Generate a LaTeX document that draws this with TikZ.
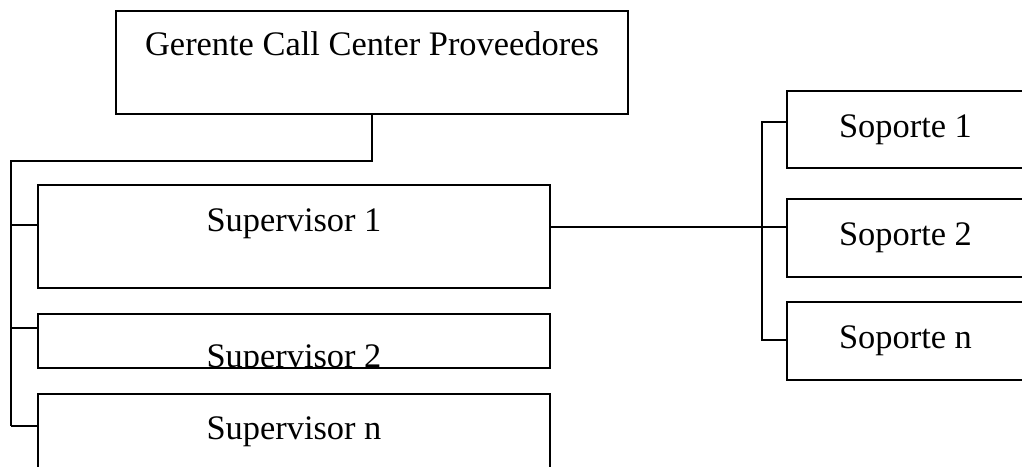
\documentclass[tikz,border=0pt]{standalone}
\usepackage{fontspec}
\setmainfont{Liberation Serif}
\begin{document}
\begin{tikzpicture}[x=1pt,y=-1pt,
  box/.style={draw,line width=2pt,rectangle,inner sep=0pt},
  lbl/.style={anchor=base,inner sep=0pt,font=\fontsize{34.4}{40}\selectfont},
  conn/.style={line width=1.7pt}]
\useasboundingbox (0,0) rectangle (1022,466);
\clip (0,0) rectangle (1022,466);
% boxes
\node[box,minimum width=512pt,minimum height=103pt] (ger) at (372,62.5) {};
\node[box,minimum width=512pt,minimum height=103pt] (sup1) at (294,236.5) {};
\node[box,minimum width=512pt,minimum height=54pt] (sup2) at (294,341) {};
\node[box,minimum width=512pt,minimum height=103pt] (supn) at (294,445.5) {};
\node[box,minimum width=237pt,minimum height=77pt] (sop1) at (905.5,129.5) {};
\node[box,minimum width=237pt,minimum height=78pt] (sop2) at (905.5,238) {};
\node[box,minimum width=237pt,minimum height=78pt] (sopn) at (905.5,341) {};
% labels
\node[lbl] (tger) at (372,55) {Gerente Call Center Proveedores};
\node[lbl] (tsup1) at (294,231) {Supervisor 1};
\begin{scope}
\clip (38,314) rectangle (550,367);
\node[lbl] (tsup2) at (294,367) {Supervisor 2};
\end{scope}
\node[lbl] (tsupn) at (294,439) {Supervisor n};
\node[lbl] (tsop1) at (905.5,137) {Soporte 1};
\node[lbl] (tsop2) at (905.5,245) {Soporte 2};
\node[lbl] (tsopn) at (905.5,348) {Soporte n};
% connector coordinates
\coordinate (ttop) at (11,161);
\coordinate (tb1) at (11,225);
\coordinate (tb2) at (11,328);
\coordinate (tbn) at (11,426);
\coordinate (rmid) at (762,227);
\coordinate (rtop) at (762,122);
\coordinate (rbot) at (762,340);
% left tree
\draw[conn] (ger.south) |- (ttop) -- (tbn);
\draw[conn] (tb1) -- (tb1 -| sup1.west);
\draw[conn] (tb2) -- (tb2 -| sup2.west);
\draw[conn] (tbn) -- (tbn -| supn.west);
% right tree
\draw[conn] (rmid -| sup1.east) -- (rmid -| sop2.west);
\draw[conn] (rtop -| sop1.west) -- (rtop) -- (rbot) -- (rbot -| sopn.west);
\end{tikzpicture}
\end{document}
